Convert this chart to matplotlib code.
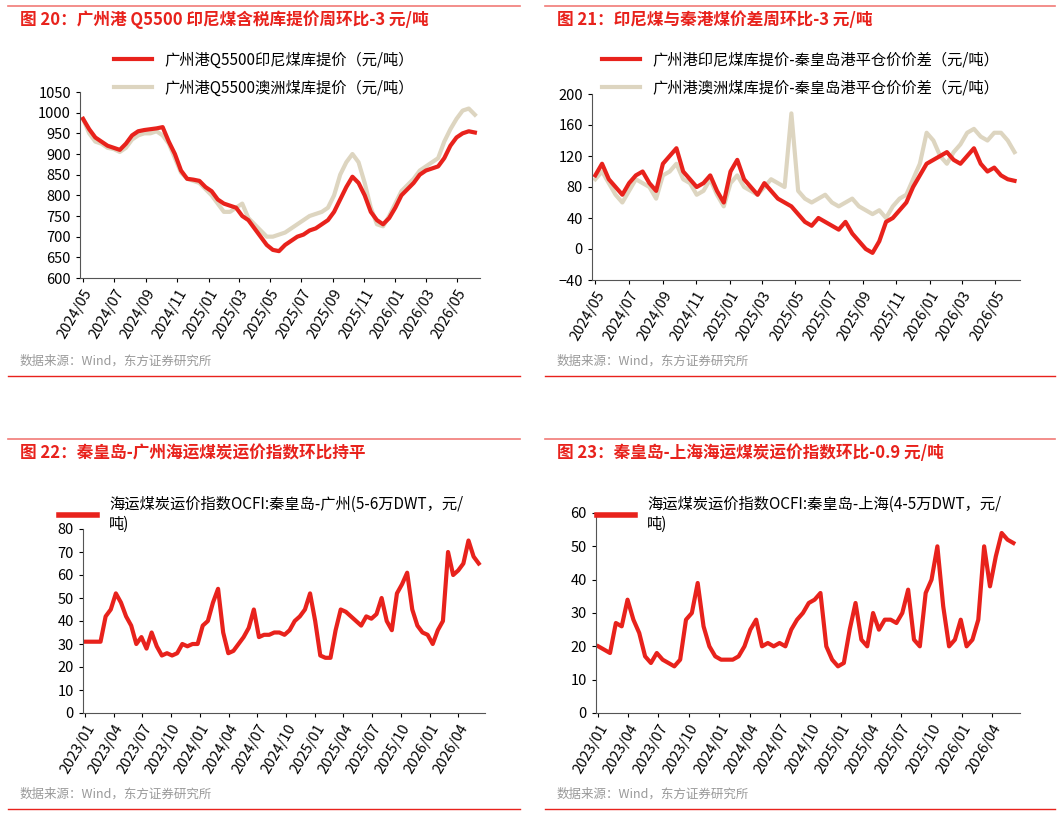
import matplotlib
matplotlib.use("Agg")
import matplotlib.pyplot as plt
import matplotlib.dates as mdates
import pandas as pd
import numpy as np

plt.rcParams['font.family'] = ['Noto Sans CJK SC', 'DejaVu Sans']

RED = '#e8221c'
BEIGE = '#ddd5c0'

# Panel 20 (2024-05 .. 2026-06)
p20_red = [985, 960, 940, 930, 920, 915, 910, 925, 945, 955, 958, 960, 962, 965, 930, 900, 860, 840,
           838, 835, 820, 810, 790, 780, 775, 770, 750, 740, 720, 700, 680, 668, 665, 680, 690, 700,
           705, 715, 720, 730, 740, 760, 790, 820, 845, 830, 800, 760, 740, 730, 745, 770, 800, 815,
           830, 850, 860, 865, 870, 890, 920, 940, 950, 955, 952]
p20_beige = [985, 950, 930, 925, 915, 912, 905, 915, 935, 945, 950, 950, 955, 945, 925, 890, 855, 840,
             835, 830, 815, 800, 780, 760, 760, 770, 780, 745, 730, 715, 700, 700, 705, 710, 720, 730,
             740, 750, 755, 760, 770, 800, 850, 880, 900, 880, 830, 770, 730, 725, 750, 780, 810, 825,
             840, 860, 870, 880, 890, 930, 960, 985, 1005, 1010, 995]
# Panel 21
p21_red = [95, 110, 90, 80, 70, 85, 95, 100, 85, 75, 110, 120, 130, 100, 90, 80, 85, 95, 75, 60,
           100, 115, 90, 80, 70, 85, 75, 65, 60, 55, 45, 35, 30, 40, 35, 30, 25, 35, 20, 10, 0, -5,
           10, 35, 40, 50, 60, 80, 95, 110, 115, 120, 125, 115, 110, 120, 130, 110, 100, 105, 95, 90,
           88]
p21_beige = [90, 100, 85, 70, 60, 75, 90, 85, 80, 65, 95, 100, 110, 90, 85, 70, 75, 90, 70, 55,
             85, 95, 80, 75, 70, 80, 90, 85, 80, 175, 75, 65, 60, 65, 70, 60, 55, 60, 65, 55, 50,
             45, 50, 40, 55, 65, 70, 90, 110, 150, 140, 120, 110, 125, 135, 150, 155, 145, 140, 150,
             150, 140, 125]
# Panel 22 (2023-01 .. 2026-06)
p22 = [31, 31, 31, 31, 42, 45, 52, 48, 42, 38, 30, 33, 28, 35, 29, 25, 26, 25, 26, 30, 29, 30, 30,
       38, 40, 48, 54, 35, 26, 27, 30, 33, 37, 45, 33, 34, 34, 35, 35, 34, 36, 40, 42, 45, 52, 40, 25,
       24, 24, 36, 45, 44, 42, 40, 38, 42, 41, 43, 50, 40, 36, 52, 56, 61, 45, 38, 35, 34, 30, 36,
       40, 70, 60, 62, 65, 75, 68, 65]
# Panel 23
p23 = [20, 19, 18, 27, 26, 34, 28, 24, 17, 15, 18, 16, 15, 14, 16, 28, 30, 39, 26, 20, 17, 16,
       16, 16, 17, 20, 25, 28, 20, 21, 20, 21, 20, 25, 28, 30, 33, 34, 36, 20, 16, 14, 15, 25, 33,
       22, 20, 30, 25, 28, 28, 27, 30, 37, 22, 20, 36, 40, 50, 32, 20, 22, 28, 20, 22, 28, 50, 38,
       47, 54, 52, 51]

src = '数据来源：Wind，东方证券研究所'

fig = plt.figure(figsize=(10.61, 8.15), dpi=100)
W, H = 1061, 815

def ax_at(x0, y0, x1, y1):
    return fig.add_axes([x0 / W, 1 - y1 / H, (x1 - x0) / W, (y1 - y0) / H])

def frame(x0, x1, ytop, title, ysrc, ybot):
    fig.add_artist(plt.Line2D([x0 / W, x1 / W], [1 - ytop / H] * 2, color=RED, lw=1.2, alpha=0.6))
    fig.add_artist(plt.Line2D([x0 / W, x1 / W], [1 - ybot / H] * 2, color=RED, lw=1.0))
    fig.text((x0 + 12) / W, 1 - (ytop + 14) / H, title, color=RED, fontsize=12, fontweight='bold', va='center')
    fig.text((x0 + 12) / W, 1 - ysrc / H, src, color='#999999', fontsize=9, va='center')

def style(ax):
    for s in ['top', 'right']:
        ax.spines[s].set_visible(False)
    ax.spines['left'].set_color('#555555')
    ax.spines['bottom'].set_color('#555555')
    ax.tick_params(labelsize=10.5, length=3)
    for lab in ax.get_xticklabels():
        lab.set_rotation(60); lab.set_ha('right'); lab.set_rotation_mode('anchor')

frame(8, 520, 6, '图 20：广州港 Q5500 印尼煤含税库提价周环比-3 元/吨', 361, 376)
frame(545, 1055, 6, '图 21：印尼煤与秦港煤价差周环比-3 元/吨', 361, 376)
frame(8, 520, 439, '图 22：秦皇岛-广州海运煤炭运价指数环比持平', 794, 809)
frame(545, 1055, 439, '图 23：秦皇岛-上海海运煤炭运价指数环比-0.9 元/吨', 794, 809)

def tick_dates(ax, start, end, step):
    ax.xaxis.set_major_locator(mdates.MonthLocator(bymonth=[1, 4, 7, 10] if step == 3 else [1, 3, 5, 7, 9, 11]))
    ax.xaxis.set_major_formatter(mdates.DateFormatter('%Y/%m'))
    ax.set_xlim(pd.Timestamp(start), pd.Timestamp(end))

legkw = dict(frameon=False, fontsize=11, handlelength=2.5, labelspacing=0.7)

# Panel 20
ax = ax_at(80, 92, 480, 278)
d = pd.date_range('2024-05-01', '2026-06-05', periods=len(p20_red))
ax.plot(d, p20_beige, color=BEIGE, lw=3, label='广州港Q5500澳洲煤库提价（元/吨）')
ax.plot(d, p20_red, color=RED, lw=3, label='广州港Q5500印尼煤库提价（元/吨）')
ax.set_ylim(600, 1050); ax.set_yticks(range(600, 1051, 50))
tick_dates(ax, '2024-04-25', '2026-06-15', 2)
style(ax)
h, l = ax.get_legend_handles_labels()
fig.legend(h[::-1], l[::-1], loc='upper left', bbox_to_anchor=(100 / W, 1 - 38 / H), **legkw)

# Panel 21
ax = ax_at(592, 94, 1020, 280)
d = pd.date_range('2024-05-01', '2026-06-05', periods=len(p21_red))
ax.plot(d, p21_beige, color=BEIGE, lw=3, label='广州港澳洲煤库提价-秦皇岛港平仓价价差（元/吨）')
ax.plot(d, p21_red, color=RED, lw=3, label='广州港印尼煤库提价-秦皇岛港平仓价价差（元/吨）')
ax.set_ylim(-40, 200); ax.set_yticks(range(-40, 201, 40))
tick_dates(ax, '2024-04-25', '2026-06-15', 2)
style(ax)
h, l = ax.get_legend_handles_labels()
fig.legend(h[::-1], l[::-1], loc='upper left', bbox_to_anchor=(588 / W, 1 - 38 / H), **legkw)

# Panel 22
ax = ax_at(83, 529, 485, 713)
d = pd.date_range('2023-01-01', '2026-06-05', periods=len(p22))
ax.plot(d, p22, color=RED, lw=3)
ax.set_ylim(0, 80); ax.set_yticks(range(0, 81, 10))
tick_dates(ax, '2022-12-25', '2026-06-25', 3)
style(ax)
fig.legend([plt.Line2D([], [], color=RED, lw=4)], ['海运煤炭运价指数OCFI:秦皇岛-广州(5-6万DWT，元/\n吨)'],
           loc='upper left', bbox_to_anchor=(45 / W, 1 - 482 / H), **legkw)

# Panel 23
ax = ax_at(596, 513, 1020, 713)
d = pd.date_range('2023-01-01', '2026-06-05', periods=len(p23))
ax.plot(d, p23, color=RED, lw=3)
ax.set_ylim(0, 60); ax.set_yticks(range(0, 61, 10))
tick_dates(ax, '2022-12-25', '2026-06-25', 3)
style(ax)
fig.legend([plt.Line2D([], [], color=RED, lw=4)], ['海运煤炭运价指数OCFI:秦皇岛-上海(4-5万DWT，元/\n吨)'],
           loc='upper left', bbox_to_anchor=(583 / W, 1 - 482 / H), **legkw)

fig.savefig('out.png', dpi=100)
